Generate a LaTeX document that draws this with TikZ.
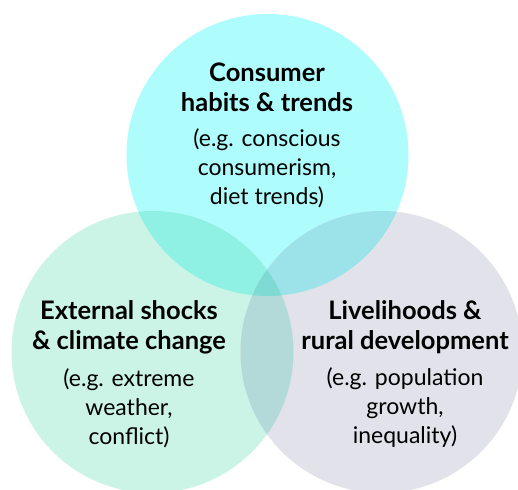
\documentclass[tikz,border=0pt]{standalone}
\usepackage{fontspec}
\setmainfont{Lato}
\definecolor{consumer}{HTML}{AFFCFC}
\definecolor{shocks}{HTML}{CBF4E7}
\definecolor{rural}{HTML}{E2E3EA}
\definecolor{consumershocks}{HTML}{8EF1E4}
\definecolor{consumerrural}{HTML}{9BE3E9}
\definecolor{shocksrural}{HTML}{B3D9D8}
\definecolor{allthree}{HTML}{80DAD4}
\begin{document}
\begin{tikzpicture}[x=1pt,y=1pt,
	title/.style={font=\bfseries\fontsize{25.5}{30}\selectfont, align=center},
	example/.style={font=\fontsize{23}{29}\selectfont, align=center}]
		\useasboundingbox (0,0) rectangle (518,489);
		\clip (0,0) rectangle (518,489);
		\coordinate (c) at (267.5,334);
		\coordinate (l) at (152.5,137);
		\coordinate (r) at (381.5,137);

		\fill [consumer] (c) circle (141);
		\fill [shocks] (l) circle (141);
		\fill [rural] (r) circle (141);
		\begin{scope}
			\clip (c) circle (141);
			\fill [consumershocks] (l) circle (141);
			\fill [consumerrural] (r) circle (141);
		\end{scope}
		\begin{scope}
			\clip (l) circle (141);
			\fill [shocksrural] (r) circle (141);
			\clip (r) circle (141);
			\fill [allthree] (c) circle (141);
		\end{scope}

		\node [title] (ctitle) at (267,402) {Consumer\\habits \& trends};
		\node [example] (cex) at (267,321) {(e.g. conscious\\consumerism,\\diet trends)};

		\node [title] (ltitle) at (129,161.5) {External shocks\\\& climate change};
		\node [example] (lex) at (129,81) {(e.g. extreme\\weather,\\conflict)};

		\node [title] (rtitle) at (405,161.5) {Livelihoods \&\\rural development};
		\node [example] (rex) at (405,81) {(e.g. population\\growth,\\inequality)};
	\end{tikzpicture}
\end{document}
